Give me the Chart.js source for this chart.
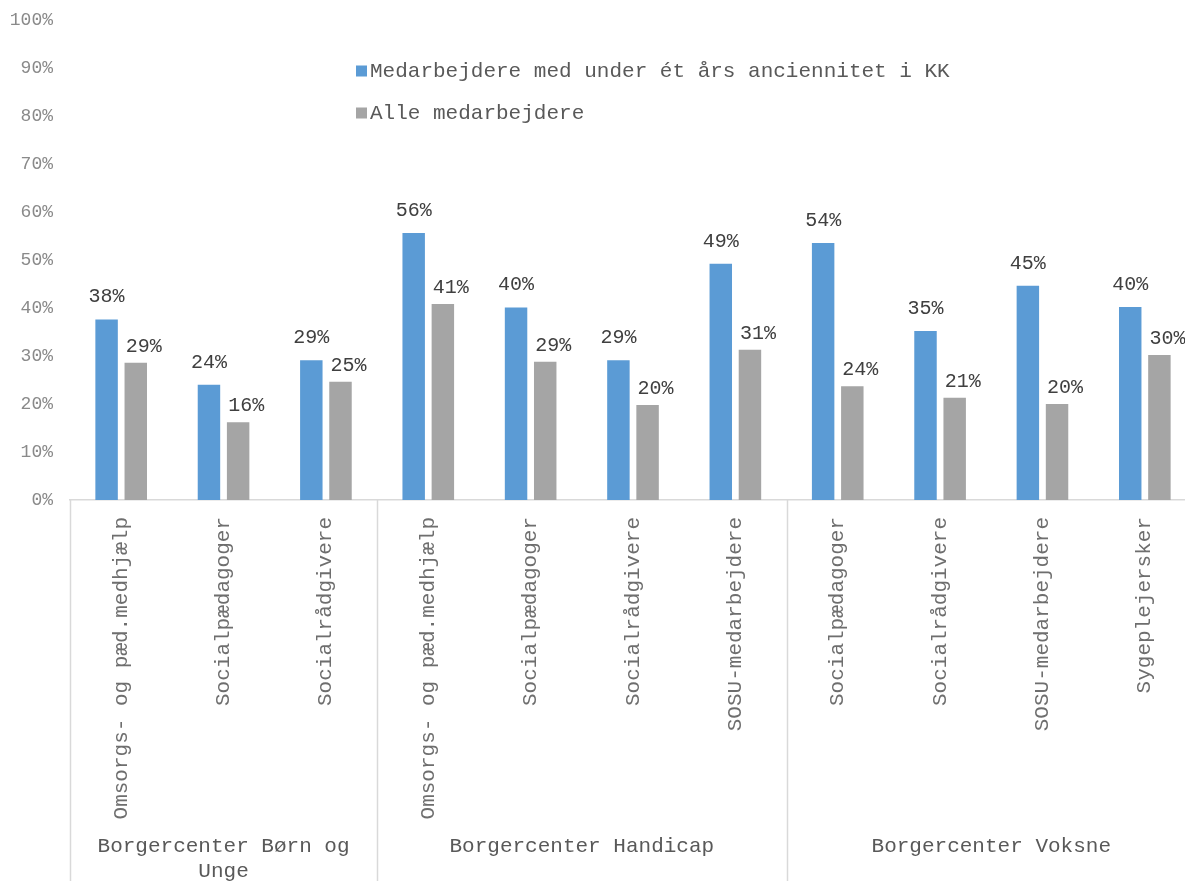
<!DOCTYPE html>
<html>
<head>
<meta charset="utf-8">
<script src="https://cdn.jsdelivr.net/npm/chart.js@4/dist/chart.umd.min.js"></script>
<style>
  html, body { margin: 0; padding: 0; background: #fff; overflow: hidden; }
  #wrap { width: 1196px; height: 881px; }
</style>
</head>
<body>
<div id="wrap"><canvas id="chart" width="1196" height="881"></canvas></div>
<script>
const categories = [
  "Omsorgs- og pæd.medhjælp", "Socialpædagoger", "Socialrådgivere",
  "Omsorgs- og pæd.medhjælp", "Socialpædagoger", "Socialrådgivere", "SOSU-medarbejdere",
  "Socialpædagoger", "Socialrådgivere", "SOSU-medarbejdere", "Sygeplejersker"
];
const groupNames = [["Borgercenter Børn og", "Unge"], ["Borgercenter Handicap"], ["Borgercenter Voksne"]];
const groupSizes = [3, 4, 4];

const seriesNames = ["Medarbejdere med under ét års anciennitet i KK", "Alle medarbejdere"];
const newStaff = [37.6, 24.0, 29.1, 55.6, 40.1, 29.1, 49.2, 53.5, 35.2, 44.6, 40.2];
const allStaff = [28.6, 16.2, 24.6, 40.8, 28.8, 19.8, 31.3, 23.7, 21.3, 20.0, 30.2];

const yTicks = [0, 10, 20, 30, 40, 50, 60, 70, 80, 90, 100];

const FONT = "'Liberation Mono', 'Courier New', monospace";

// legend drawn inside the plot, two rows
const legendPlugin = {
  id: "legendInside",
  afterDraw(chart) {
    const ctx = chart.ctx;
    ctx.save();
    ctx.font = "21px " + FONT;
    ctx.textBaseline = "middle";
    chart.data.datasets.forEach((ds, i) => {
      const y = 71 + i * 42;
      ctx.fillStyle = ds.backgroundColor;
      ctx.fillRect(356, y - 5.5, 11, 11);
      ctx.fillStyle = "#595959";
      ctx.fillText(ds.label, 370, y);
    });
    ctx.restore();
  }
};

// value labels above the bars
const valueLabels = {
  id: "valueLabels",
  afterDatasetsDraw(chart) {
    const ctx = chart.ctx;
    ctx.save();
    ctx.font = "20px " + FONT;
    ctx.fillStyle = "#404040";
    ctx.textAlign = "center";
    ctx.textBaseline = "alphabetic";
    chart.data.datasets.forEach((ds, di) => {
      chart.getDatasetMeta(di).data.forEach((bar, i) => {
        const txt = Math.round(ds.data[i]) + "%";
        const dx = di === 0 ? 0 : 8;
        const dy = di === 0 ? 17 : 11;
        ctx.fillText(txt, bar.x + dx, bar.y - dy);
      });
    });
    ctx.restore();
  }
};

// group labels + separators under the category labels
const groupAxis = {
  id: "groupAxis",
  afterDraw(chart) {
    const ctx = chart.ctx;
    const area = chart.chartArea;
    const step = (area.right - area.left) / categories.length;
    ctx.save();
    ctx.strokeStyle = "#d9d9d9";
    ctx.lineWidth = 1.5;
    let start = 0;
    const bounds = [0];
    groupSizes.forEach(n => { start += n; bounds.push(start); });
    bounds.forEach(b => {
      const bx = Math.round(area.left + b * step) + 0.5;
      ctx.beginPath();
      ctx.moveTo(bx, area.bottom);
      ctx.lineTo(bx, chart.height);
      ctx.stroke();
    });
    ctx.font = "21px " + FONT;
    ctx.fillStyle = "#595959";
    ctx.textAlign = "center";
    ctx.textBaseline = "middle";
    groupNames.forEach((lines, g) => {
      const cx = area.left + (bounds[g] + bounds[g + 1]) / 2 * step;
      lines.forEach((ln, k) => ctx.fillText(ln, cx, 846 + k * 25));
    });
    ctx.restore();
  }
};

new Chart(document.getElementById("chart"), {
  type: "bar",
  data: {
    labels: categories,
    datasets: [
      { label: seriesNames[0], data: newStaff, backgroundColor: "#5b9bd5" },
      { label: seriesNames[1], data: allStaff, backgroundColor: "#a5a5a5" }
    ]
  },
  options: {
    responsive: false,
    animation: false,
    categoryPercentage: 0.57,
    barPercentage: 0.77,
    layout: { padding: { top: 14, left: 0, right: 0, bottom: 0 } },
    plugins: { legend: { display: false }, tooltip: { enabled: false } },
    scales: {
      x: {
        grid: { display: false },
        border: { display: true, color: "#d9d9d9", width: 1.5 },
        ticks: {
          autoSkip: false,
          minRotation: 90,
          maxRotation: 90,
          padding: 9,
          color: "#6e6e6e",
          font: { family: FONT, size: 21 }
        },
        afterFit(scale) { scale.height = 381; }
      },
      y: {
        min: 0,
        max: 100,
        grid: { display: false },
        border: { display: false },
        afterBuildTicks(scale) { scale.ticks = yTicks.map(v => ({ value: v })); },
        ticks: {
          padding: 9,
          color: "#8a8a8a",
          font: { family: FONT, size: 18 },
          callback: v => v + "%"
        },
        afterFit(scale) { scale.width = 70; }
      }
    }
  },
  plugins: [legendPlugin, valueLabels, groupAxis]
});
</script>
</body>
</html>
